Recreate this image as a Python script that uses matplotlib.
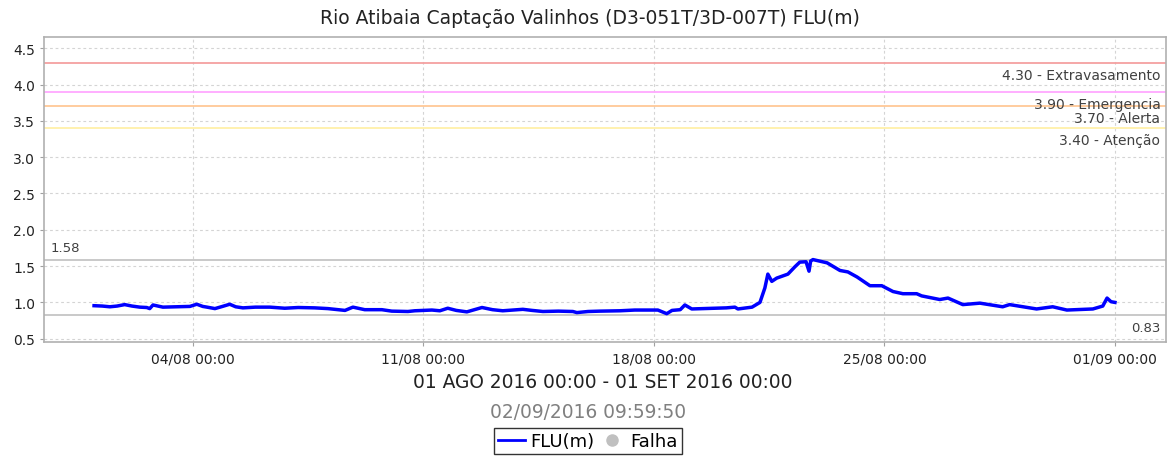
import datetime as dt
import matplotlib
matplotlib.use("Agg")
import matplotlib.pyplot as plt
import matplotlib.dates as mdates
from matplotlib.lines import Line2D

# ---------------- data ----------------
start = dt.datetime(2016, 8, 1)
days = [0.00, 0.25, 0.48, 0.70, 0.93, 1.15, 1.39, 1.60, 1.69, 1.79, 2.09, 2.50,
        2.91, 3.12, 3.30, 3.43, 3.67, 3.90, 4.12, 4.30, 4.52, 4.90, 5.34, 5.79,
        6.20, 6.70, 7.10, 7.62, 7.86, 8.22, 8.74, 9.04, 9.53, 9.74, 10.26, 10.50,
        10.74, 11.00, 11.32, 11.78, 12.10, 12.41, 13.02, 13.30, 13.63, 14.10, 14.54,
        14.66, 15.00, 15.36, 15.97, 16.42, 17.12, 17.39, 17.55, 17.80, 17.94, 18.15,
        18.50, 18.85, 19.20, 19.46, 19.55, 19.98, 20.22, 20.37, 20.46, 20.58, 20.73,
        21.07, 21.28, 21.43, 21.62, 21.71, 21.76, 21.83, 22.26, 22.65, 22.89, 23.17,
        23.56, 23.92, 24.26, 24.56, 24.98, 25.13, 25.68, 25.93, 26.38, 26.90, 27.59,
        27.80, 28.62, 29.11, 29.54, 30.33, 30.63, 30.76, 30.88, 31.00]
levels = [0.955, 0.95, 0.94, 0.95, 0.97, 0.95, 0.935, 0.93, 0.915, 0.965, 0.935, 0.94,
          0.945, 0.975, 0.945, 0.935, 0.915, 0.945, 0.975, 0.94, 0.925, 0.935, 0.935, 0.92,
          0.93, 0.925, 0.915, 0.89, 0.935, 0.90, 0.90, 0.88, 0.875, 0.885, 0.895, 0.885,
          0.92, 0.89, 0.87, 0.93, 0.90, 0.885, 0.905, 0.89, 0.875, 0.88, 0.875,
          0.86, 0.875, 0.88, 0.885, 0.895, 0.895, 0.845, 0.89, 0.90, 0.965, 0.91,
          0.915, 0.92, 0.925, 0.935, 0.91, 0.935, 1.00, 1.20, 1.39, 1.29, 1.335,
          1.39, 1.49, 1.555, 1.56, 1.43, 1.57, 1.59, 1.545, 1.44, 1.42, 1.35,
          1.23, 1.23, 1.15, 1.12, 1.12, 1.09, 1.04, 1.06, 0.97, 0.99, 0.94,
          0.97, 0.91, 0.94, 0.895, 0.91, 0.95, 1.06, 1.01, 1.00]

thresholds = [4.30, 3.90, 3.70, 3.40]
threshold_names = ["Extravasamento", "Emergencia", "Alerta", "Atenção"]
threshold_colors = ["#f4a0a0", "#ffa8ff", "#ffc896", "#fff0a8"]

max_level = 1.58
min_level = 0.83

yticks = [0.5, 1.0, 1.5, 2.0, 2.5, 3.0, 3.5, 4.0, 4.5]
xtick_dates = [dt.datetime(2016, 8, 4), dt.datetime(2016, 8, 11), dt.datetime(2016, 8, 18),
               dt.datetime(2016, 8, 25), dt.datetime(2016, 9, 1)]

title = "Rio Atibaia Captação Valinhos (D3-051T/3D-007T) FLU(m)"
period = "01 AGO 2016 00:00 - 01 SET 2016 00:00"
stamp = "02/09/2016 09:59:50"

# ---------------- plot ----------------
times = [start + dt.timedelta(days=d) for d in days]

W, H = 1167, 460
fig = plt.figure(figsize=(W / 100, H / 100), dpi=100)
ax = fig.add_axes([44 / W, (H - 343) / H, (1166 - 44) / W, (343 - 38) / H])

ax.set_ylim(0.455, 4.655)
ax.set_xlim(start - dt.timedelta(days=1.52), dt.datetime(2016, 9, 1) + dt.timedelta(days=1.55))

ax.grid(True, color="#d4d4d4", linestyle=(0, (2.5, 2.5)), linewidth=0.8)
ax.set_axisbelow(True)

for v, name, c in zip(thresholds, threshold_names, threshold_colors):
    ax.axhline(v, color=c, linewidth=1.3, zorder=1)
    ax.annotate(f"{v:.2f} - {name}", xy=(1, v), xycoords=("axes fraction", "data"),
                xytext=(-4, -8.5), textcoords="offset points", ha="right", va="center",
                fontsize=10, color="#404040")

ax.axhline(max_level, color="#c0c0c0", linewidth=1.2, zorder=1)
ax.axhline(min_level, color="#c0c0c0", linewidth=1.2, zorder=1)
ax.annotate(f"{max_level:.2f}", xy=(0, max_level), xycoords=("axes fraction", "data"),
            xytext=(5, 9.5), textcoords="offset points", ha="left", va="center",
            fontsize=9.5, color="#404040")
ax.annotate(f"{min_level:.2f}", xy=(1, min_level), xycoords=("axes fraction", "data"),
            xytext=(-4, -9), textcoords="offset points", ha="right", va="center",
            fontsize=9.5, color="#404040")

ax.plot(times, levels, color="#0000ff", linewidth=2.5, zorder=3, solid_joinstyle="round")

ax.set_yticks(yticks)
ax.set_yticklabels([f"{t:.1f}" for t in yticks])
ax.set_xticks(xtick_dates)
ax.xaxis.set_major_formatter(mdates.DateFormatter("%d/%m %H:%M"))
ax.tick_params(axis="both", labelsize=10, colors="#a0a0a0", labelcolor="#222222", length=3)

for s in ax.spines.values():
    s.set_color("#b0b0b0")
    s.set_linewidth(1.2)

fig.text(590 / W, 1 - 18 / H, title, ha="center", va="center", fontsize=13.5, color="#222222")
fig.text(603 / W, 1 - 383 / H, period, ha="center", va="center", fontsize=13.4, color="#222222")
fig.text(588 / W, 1 - 412 / H, stamp, ha="center", va="center", fontsize=13.4, color="#808080")

handles = [Line2D([], [], color="#0000ff", linewidth=2),
           Line2D([], [], marker="o", color="#c0c0c0", linestyle="none", markersize=8)]
leg = fig.legend(handles, ["FLU(m)", "Falha"], loc="center", bbox_to_anchor=(588 / W, 1 - 442 / H),
                 ncol=2, fontsize=13, frameon=True, fancybox=False, edgecolor="black",
                 handlelength=1.5, handletextpad=0.3, columnspacing=0.2, borderpad=0.2,
                 borderaxespad=0)
leg.get_frame().set_linewidth(1.0)

fig.savefig("out.png", dpi=100)
